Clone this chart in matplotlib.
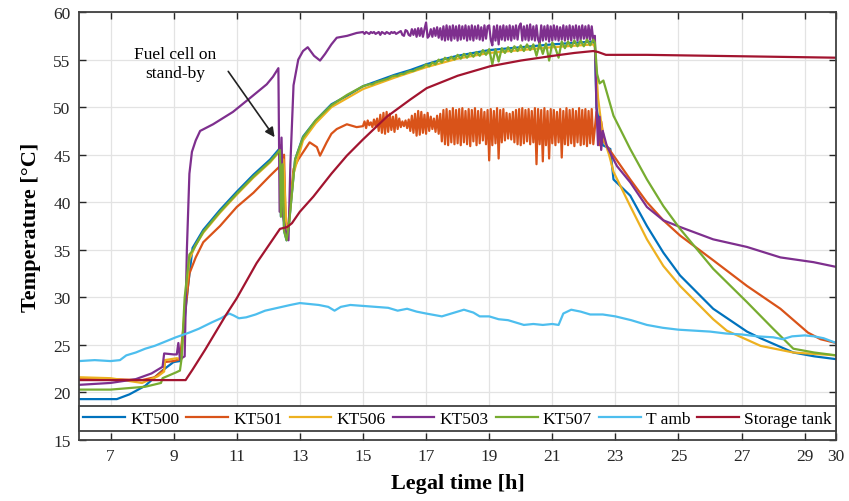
import matplotlib
matplotlib.use("Agg")
import matplotlib.pyplot as plt

plt.rcParams['font.family'] = ['Liberation Serif', 'DejaVu Serif']

# sampling grid of the noisy stretch (15.00 ... 22.30 h, every 3 min)
band_t = [15.00, 15.05, 15.10, 15.15, 15.20, 15.25, 15.30, 15.35, 15.40, 15.45,
          15.50, 15.55, 15.60, 15.65, 15.70, 15.75, 15.80, 15.85, 15.90, 15.95,
          16.00, 16.05, 16.10, 16.15, 16.20, 16.25, 16.30, 16.35, 16.40, 16.45,
          16.50, 16.55, 16.60, 16.65, 16.70, 16.75, 16.80, 16.85, 16.90, 16.95,
          17.00, 17.05, 17.10, 17.15, 17.20, 17.25, 17.30, 17.35, 17.40, 17.45,
          17.50, 17.55, 17.60, 17.65, 17.70, 17.75, 17.80, 17.85, 17.90, 17.95,
          18.00, 18.05, 18.10, 18.15, 18.20, 18.25, 18.30, 18.35, 18.40, 18.45,
          18.50, 18.55, 18.60, 18.65, 18.70, 18.75, 18.80, 18.85, 18.90, 18.95,
          19.00, 19.05, 19.10, 19.15, 19.20, 19.25, 19.30, 19.35, 19.40, 19.45,
          19.50, 19.55, 19.60, 19.65, 19.70, 19.75, 19.80, 19.85, 19.90, 19.95,
          20.00, 20.05, 20.10, 20.15, 20.20, 20.25, 20.30, 20.35, 20.40, 20.45,
          20.50, 20.55, 20.60, 20.65, 20.70, 20.75, 20.80, 20.85, 20.90, 20.95,
          21.00, 21.05, 21.10, 21.15, 21.20, 21.25, 21.30, 21.35, 21.40, 21.45,
          21.50, 21.55, 21.60, 21.65, 21.70, 21.75, 21.80, 21.85, 21.90, 21.95,
          22.00, 22.05, 22.10, 22.15, 22.20, 22.25, 22.30]

# KT500
kt500_t = [6.0, 7.2, 7.6, 8.1, 8.64, 9.0, 9.2, 9.3, 9.45, 9.6, 9.94, 10.47, 11.0, 11.53,
           12.06, 12.37, 12.4, 12.45, 12.5, 12.58, 12.65, 12.75, 12.85, 13.1, 13.5, 14.0,
           14.5, 15.0, 15.5, 16.0, 16.5, 17.0, 17.5, 18.0, 19.0, 20.0, 21.0, 22.3, 22.35,
           22.4, 22.5, 22.6, 22.84, 22.94, 23.47, 24.0, 24.52, 25.05, 26.1, 27.17, 27.6,
           28.64, 29.3, 30.0]
kt500_v = [19.3, 19.3, 19.8, 20.7, 22.3, 23.2, 23.3, 26.0, 31.0, 35.2, 37.1, 39.2, 41.1, 42.9,
           44.5, 45.7, 38.5, 44.0, 37.0, 36.0, 37.5, 41.0, 44.5, 46.9, 48.6, 50.3,
           51.2, 52.2, 52.8, 53.4, 53.9, 54.5, 55.0, 55.4, 56.0, 56.3, 56.6, 56.9, 56.6,
           50.0, 48.0, 46.0, 45.6, 42.4, 40.7, 37.5, 34.7, 32.3, 28.8, 26.4, 25.7,
           24.2, 23.8, 23.5]

# KT501
kt501_band = [48.0, 48.5, 47.8, 48.6, 48.1, 48.4, 47.9, 48.7, 48.0, 48.8,
              47.5, 49.2, 47.3, 49.4, 47.2, 49.5, 47.4, 49.3, 47.6, 49.0,
              47.4, 49.2, 47.7, 48.8, 47.9, 48.5, 48.0, 48.6, 47.8, 48.7,
              47.5, 49.1, 47.3, 49.3, 47.0, 49.6, 47.1, 49.5, 47.3, 49.2,
              47.2, 49.4, 47.5, 49.0, 47.7, 48.8, 47.4, 49.1, 47.2, 49.3,
              46.4, 49.7, 46.1, 49.8, 46.0, 49.6, 46.3, 49.9, 46.1, 49.7,
              46.2, 49.8, 46.0, 49.9, 46.3, 49.6, 46.1, 49.8, 45.9, 49.7,
              46.4, 49.9, 46.0, 49.6, 46.2, 49.8, 46.5, 49.5, 46.1, 49.7,
              44.4, 49.8, 46.0, 49.6, 46.2, 49.9, 44.6, 49.7, 46.3, 49.8,
              46.5, 49.4, 46.7, 49.3, 46.6, 49.5, 46.3, 49.7, 46.1, 49.8,
              46.0, 49.9, 46.2, 49.7, 46.4, 49.8, 46.1, 49.6, 46.3, 49.9,
              44.0, 49.8, 46.1, 49.7, 44.3, 49.9, 46.0, 49.6, 44.6, 49.8,
              46.2, 49.7, 46.0, 49.5, 46.3, 49.8, 44.7, 49.6, 46.1, 49.9,
              46.0, 49.7, 46.2, 49.8, 45.9, 49.6, 46.3, 49.9, 46.0, 49.7,
              46.1, 49.8, 45.9, 49.6, 46.2, 49.8, 46.1]
kt501_t = ([6.0, 7.0, 8.0, 8.4, 8.7, 8.72, 9.0, 9.2, 9.35, 9.5, 9.7, 9.94, 10.47, 11.0,
            11.53, 12.06, 12.37, 12.4, 12.45, 12.5, 12.55, 12.62, 12.7, 12.8, 12.95, 13.11,
            13.31, 13.54, 13.64, 13.85, 14.0, 14.17, 14.49, 14.8]
           + band_t
           + [22.4, 22.5, 22.55, 22.65, 23.47, 24.0, 24.52, 25.05, 26.1, 27.17, 28.23,
              29.1, 29.5, 30.0])
kt501_v = ([21.5, 21.4, 21.3, 21.6, 22.4, 23.2, 23.3, 23.5, 28.0, 32.5, 34.2, 35.8, 37.5, 39.5,
            41.0, 42.8, 43.8, 46.0, 40.0, 45.0, 38.0, 37.0, 40.0, 43.5, 44.5, 45.3,
            46.3, 45.8, 44.9, 46.3, 47.2, 47.7, 48.2, 47.9]
           + kt501_band
           + [49.5, 46.0, 48.5, 46.3, 42.4, 40.0, 38.1, 36.5, 33.9, 31.2, 28.8,
              26.3, 25.6, 25.2])

# KT506
kt506_t = [6.0, 7.0, 8.0, 8.5, 8.7, 8.72, 9.1, 9.25, 9.35, 9.5, 9.7, 9.94, 10.47, 11.0,
           11.53, 12.06, 12.37, 12.42, 12.48, 12.58, 12.66, 12.8, 13.1, 13.5, 14.0, 15.0,
           16.0, 17.0, 18.0, 19.0, 20.0, 21.0, 22.3, 22.35, 22.45, 22.6, 22.8, 22.94,
           23.47, 24.0, 24.52, 25.05, 26.1, 26.53, 27.6, 28.64, 30.0]
kt506_v = [21.6, 21.5, 21.0, 21.7, 22.2, 23.4, 23.6, 23.5, 29.0, 34.0, 35.5, 36.8, 38.9, 40.8,
           42.6, 44.2, 45.4, 39.0, 44.5, 36.5, 38.0, 43.0, 46.5, 48.3, 50.0, 51.9,
           53.1, 54.2, 55.1, 55.7, 56.0, 56.3, 56.6, 56.3, 51.0, 47.0, 45.0, 43.2,
           39.6, 36.1, 33.3, 31.2, 27.7, 26.5, 24.9, 24.2, 23.9]

# KT503
kt503_band = [57.9, 57.7, 57.9, 57.8, 57.7, 57.9, 57.8, 57.9, 57.7, 57.8,
              57.9, 57.6, 57.9, 57.8, 57.7, 57.9, 57.8, 57.7, 57.9, 57.8,
              57.9, 57.7, 57.8, 57.9, 58.0, 57.6, 57.5, 58.1, 58.0, 57.6,
              57.5, 58.2, 57.6, 58.2, 57.4, 58.3, 57.5, 58.3, 57.4, 58.2,
              58.9, 57.3, 57.5, 58.2, 57.4, 58.3, 57.5, 58.4, 57.3, 58.3,
              57.1, 58.5, 57.0, 58.6, 57.1, 58.5, 57.0, 58.6, 57.2, 58.5,
              57.0, 58.6, 57.1, 58.5, 57.2, 58.6, 57.0, 58.5, 57.1, 58.6,
              57.0, 58.5, 57.2, 58.6, 57.1, 58.4, 57.0, 58.6, 57.2, 58.5,
              58.6, 57.1, 56.5, 58.5, 57.0, 58.6, 56.6, 58.5, 57.1, 58.6,
              57.0, 58.5, 57.1, 58.6, 57.0, 58.5, 57.2, 58.6, 57.1, 58.5,
              58.8, 57.0, 58.5, 57.1, 58.6, 57.0, 58.7, 57.1, 58.5, 57.0,
              58.6, 57.1, 56.7, 58.6, 57.0, 58.5, 57.1, 58.6, 56.9, 58.5,
              57.0, 58.6, 57.1, 58.5, 57.0, 58.4, 57.1, 58.6, 57.0, 58.5,
              57.1, 58.6, 57.0, 58.5, 57.2, 58.6, 57.0, 58.5, 57.1, 58.6,
              57.2, 58.5, 57.0, 58.6, 57.1, 58.5, 57.0]
kt503_t = ([6.0, 7.0, 7.8, 8.3, 8.65, 8.7, 9.0, 9.1, 9.15, 9.2, 9.35, 9.42, 9.5, 9.58,
            9.7, 9.84, 10.25, 10.88, 11.4, 11.95, 12.15, 12.32, 12.36, 12.42, 12.47, 12.55,
            12.64, 12.7, 12.8, 12.95, 13.1, 13.25, 13.45, 13.64, 13.8, 14.0, 14.17, 14.5,
            14.8]
           + band_t
           + [22.35, 22.4, 22.45, 22.5, 22.55, 22.6, 22.73, 23.05, 23.47, 24.0, 24.52,
              25.05, 26.1, 27.17, 28.23, 29.28, 30.0])
kt503_v = ([20.8, 21.0, 21.4, 22.0, 22.7, 24.1, 24.0, 24.0, 25.2, 23.5, 23.8, 35.0, 43.0, 45.3,
            46.5, 47.5, 48.2, 49.5, 50.9, 52.4, 53.2, 54.1, 39.0, 46.8, 38.5, 37.0,
            36.0, 44.0, 52.3, 55.0, 55.9, 56.3, 55.4, 54.9, 55.6, 56.6, 57.3, 57.5,
            57.8]
           + kt503_band
           + [57.5, 50.0, 46.0, 49.0, 45.5, 47.5, 45.9, 43.8, 42.1, 39.5, 38.1,
              37.4, 36.1, 35.3, 34.2, 33.7, 33.2])

# KT507 (noisy part sampled every 6 min)
kt507_band = [52.2, 52.3, 52.4, 52.4, 52.6, 52.7, 52.8, 52.9, 53.0, 53.2,
              53.3, 53.3, 53.5, 53.5, 53.7, 53.8, 53.8, 54.0, 54.1, 54.2,
              54.5, 54.3, 54.7, 54.5, 55.0, 54.7, 55.2, 54.9, 55.3, 55.0,
              55.5, 55.1, 55.6, 55.2, 55.7, 55.3, 55.8, 55.4, 56.0, 55.5,
              56.1, 54.5, 56.1, 54.8, 56.2, 55.7, 56.3, 55.8, 56.4, 55.9,
              56.5, 55.9, 56.6, 56.0, 56.6, 55.4, 56.7, 55.6, 56.7, 54.9,
              56.8, 56.2, 55.2, 56.9, 56.2, 56.9, 56.3, 57.0, 56.4, 57.0,
              56.4, 57.1, 56.5, 57.1]
kt507_t = ([6.0, 7.0, 8.1, 8.6, 8.65, 9.07, 9.2, 9.25, 9.35, 9.5, 9.62, 9.94, 10.47, 11.0,
            11.53, 12.06, 12.37, 12.4, 12.45, 12.5, 12.58, 12.65, 12.75, 12.85, 13.1, 13.5,
            14.0, 14.5]
           + band_t[::2]
           + [22.35, 22.42, 22.5, 22.62, 22.94, 23.47, 24.0, 24.52, 25.05, 26.1, 27.17,
              28.0, 28.64, 29.3, 30.0])
kt507_v = ([20.3, 20.3, 20.6, 21.0, 21.5, 22.1, 22.3, 23.5, 30.0, 34.5, 35.0, 36.9, 39.0, 40.9,
            42.7, 44.3, 45.5, 38.5, 44.0, 37.0, 36.0, 37.5, 41.0, 44.5, 46.8, 48.6,
            50.2, 51.3]
           + kt507_band
           + [56.8, 53.5, 52.5, 52.8, 49.1, 45.6, 42.4, 39.6, 37.2, 33.0, 29.5,
              26.7, 24.6, 24.2, 23.9])

# T amb
tamb_t = [6.0, 6.5, 7.0, 7.3, 7.5, 7.8, 8.1, 8.4, 8.7, 9.07, 9.5, 9.8, 10.23, 10.5, 10.76,
          10.9, 11.07, 11.3, 11.6, 11.9, 12.3, 12.7, 13.0, 13.3, 13.6, 13.9, 14.1, 14.3,
          14.6, 15.0, 15.4, 15.8, 16.1, 16.4, 16.7, 17.0, 17.5, 17.8, 18.2, 18.5, 18.7,
          19.0, 19.3, 19.6, 19.8, 20.1, 20.4, 20.7, 21.0, 21.2, 21.35, 21.6, 21.9, 22.2,
          22.6, 23.0, 23.5, 24.0, 24.5, 25.0, 25.5, 26.0, 26.5, 27.0, 27.5, 28.0, 28.3,
          28.6, 29.0, 29.3, 29.6, 30.0]
tamb_v = [23.3, 23.4, 23.3, 23.4, 23.9, 24.2, 24.6, 24.9, 25.3, 25.8, 26.3, 26.7, 27.4, 27.8, 28.3,
          28.1, 27.8, 27.9, 28.2, 28.6, 28.9, 29.2, 29.4, 29.3, 29.2, 29.0, 28.6, 29.0,
          29.2, 29.1, 29.0, 28.9, 28.6, 28.8, 28.5, 28.3, 28.0, 28.3, 28.7, 28.4, 28.0,
          28.0, 27.7, 27.6, 27.4, 27.1, 27.2, 27.1, 27.2, 27.1, 28.3, 28.7, 28.5, 28.2,
          28.2, 28.0, 27.6, 27.1, 26.8, 26.6, 26.5, 26.4, 26.2, 26.1, 25.9, 25.8, 25.6,
          25.9, 26.0, 25.9, 25.7, 25.2]

# Storage tank
tank_t = [6.0, 9.38, 9.6, 10.0, 10.65, 11.0, 11.63, 12.0, 12.37, 12.6, 12.75, 13.0, 13.43,
          14.0, 14.49, 15.0, 15.76, 16.5, 17.02, 18.0, 19.03, 20.0, 21.03, 21.7, 22.3,
          22.45, 22.7, 24.0, 26.0, 28.0, 30.0]
tank_v = [21.3, 21.3, 22.4, 24.5, 28.1, 29.9, 33.6, 35.4, 37.2, 37.4, 37.8, 39.0, 40.6,
          43.0, 44.9, 46.6, 49.0, 50.8, 52.0, 53.3, 54.3, 54.9, 55.4, 55.7, 55.9,
          55.8, 55.5, 55.5, 55.4, 55.3, 55.2]

labels = ['KT500', 'KT501', 'KT506', 'KT503', 'KT507', 'T amb', 'Storage tank']
colors = ['#0072BD', '#D95319', '#EDB120', '#7E2F8E', '#77AC30', '#4DBEEE', '#A2142F']
series = [(kt500_t, kt500_v), (kt501_t, kt501_v), (kt506_t, kt506_v), (kt503_t, kt503_v),
          (kt507_t, kt507_v), (tamb_t, tamb_v), (tank_t, tank_v)]

fig = plt.figure(figsize=(8.49, 5.02), dpi=100)
ax = fig.add_axes([0.093, 0.1215, 0.892, 0.8525])

for (t, v), lab, c in zip(series, labels, colors):
    ax.plot(t, v, color=c, lw=1.6, label=lab)

ax.set_xlim(6, 30)
ax.set_ylim(15, 60)
ax.set_xticks([7, 9, 11, 13, 15, 17, 19, 21, 23, 25, 27, 29, 30])
ax.set_yticks([15, 20, 25, 30, 35, 40, 45, 50, 55, 60])
ax.grid(True, color='#e3e3e3', lw=0.9)
ax.set_axisbelow(True)
ax.tick_params(direction='in', top=True, right=True, length=5, width=1.0,
               labelsize=12.5, colors='#262626', pad=6)
for s in ax.spines.values():
    s.set_color('#404040')
    s.set_linewidth(1.3)

ax.set_xlabel('Legal time [h]', fontsize=16, fontweight='bold', labelpad=6)
ax.set_ylabel('Temperature [°C]', fontsize=16, fontweight='bold', labelpad=9)

ax.text(9.05, 54.6, 'Fuel cell on\nstand-by', ha='center', va='center', fontsize=12.5,
        linespacing=1.3)
ax.annotate('', xy=(12.25, 46.6), xytext=(10.68, 54.0),
            arrowprops=dict(arrowstyle='-|>', color='#222222', lw=1.2, mutation_scale=14))

leg = ax.legend(loc='lower left', bbox_to_anchor=(0, 0.021, 1, 0.063), mode='expand',
                ncol=7, fontsize=12.5, handlelength=2.4, handletextpad=0.3,
                borderaxespad=0, borderpad=0.25, fancybox=False, framealpha=1,
                edgecolor='#404040', columnspacing=0.4)
leg.get_frame().set_linewidth(1.3)

plt.savefig('out.png', dpi=100)
